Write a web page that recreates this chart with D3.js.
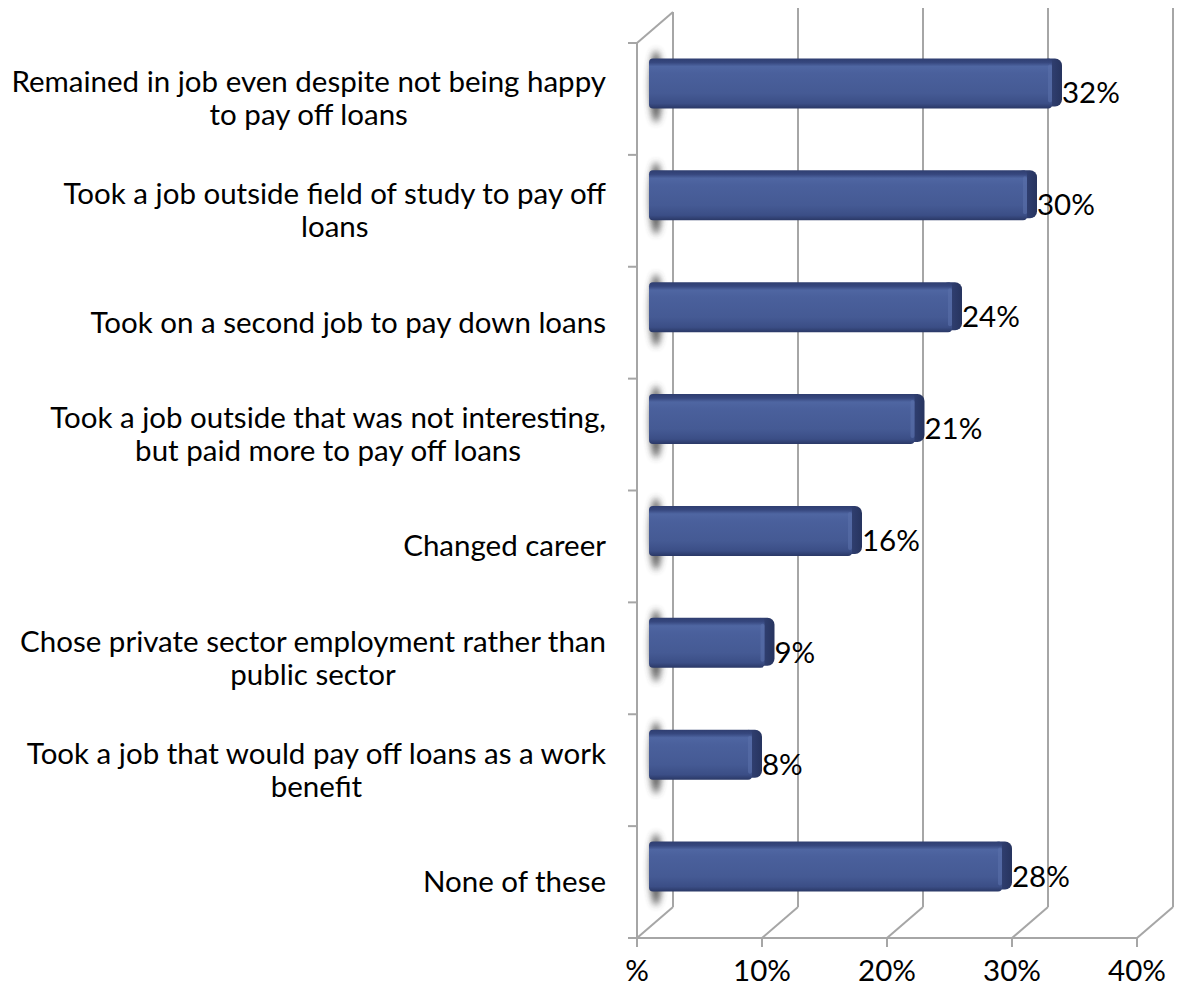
<!DOCTYPE html>
<html>
<head>
<meta charset="utf-8">
<script src="https://cdn.jsdelivr.net/npm/d3@7"></script>
<style>
  html, body { margin: 0; padding: 0; background: #fff; }
  svg { display: block; font-family: "Lato", "Open Sans", sans-serif; }
</style>
</head>
<body>
<svg id="chart" width="1179" height="990"></svg>
<script>
// Survey responses: actions taken because of student loans
const categories = [
  ["Remained in job even despite not being happy", "to pay off loans"],
  ["Took a job outside field of study to pay off", "loans"],
  ["Took on a second job to pay down loans"],
  ["Took a job outside that was not interesting,", "but paid more to pay off loans"],
  ["Changed career"],
  ["Chose private sector employment rather than", "public sector"],
  ["Took a job that would pay off loans as a work", "benefit"],
  ["None of these"]
];
const values = [0.32, 0.30, 0.24, 0.21, 0.16, 0.09, 0.08, 0.28];
const tickValues = [0, 0.1, 0.2, 0.3, 0.4];
const tickLabels = ["%", "10%", "20%", "30%", "40%"];

const svg = d3.select("#chart");

// front plane of the 3-D box, plus depth offset for the back wall
const x = d3.scaleLinear().domain([0, 0.4]).range([637, 1137]);
const y = d3.scaleBand().domain(d3.range(categories.length)).range([43, 938]);
const depth = { dx: 36, dy: -31 };
const gridColor = "#a6a6a6";
const fontSize = 29.5;

const defs = svg.append("defs");
const grad = defs.append("linearGradient").attr("id", "barFace")
  .attr("x1", 0).attr("y1", 0).attr("x2", 0).attr("y2", 1);
[
  [0, "#2f3e70"], [0.08, "#36477e"], [0.16, "#4f66a2"], [0.3, "#4a609c"],
  [0.7, "#455a94"], [0.9, "#3b4e86"], [1, "#2a3866"]
].forEach(([o, c]) => grad.append("stop").attr("offset", o).attr("stop-color", c));

const capGrad = defs.append("linearGradient").attr("id", "barCap")
  .attr("x1", 0).attr("y1", 0).attr("x2", 1).attr("y2", 0);
[[0, "#3a4c84"], [0.5, "#2f3e6f"], [1, "#27345f"]]
  .forEach(([o, c]) => capGrad.append("stop").attr("offset", o).attr("stop-color", c));

defs.append("filter").attr("id", "soft").attr("x", "-100%").attr("y", "-50%")
  .attr("width", "300%").attr("height", "200%")
  .append("feGaussianBlur").attr("stdDeviation", 3.5);

// ---- box: back wall gridlines and floor diagonals ----
const grid = svg.append("g").attr("stroke", gridColor).attr("stroke-width", 2).attr("fill", "none");
const yTop = y.range()[0], yBot = y.range()[1];

tickValues.forEach(v => {
  const fx = x(v), bx = fx + depth.dx;
  grid.append("line").attr("x1", bx).attr("x2", bx)
    .attr("y1", v === 0 ? yTop + depth.dy : 8).attr("y2", yBot + depth.dy);
  grid.append("line").attr("x1", fx).attr("y1", yBot)
    .attr("x2", bx).attr("y2", yBot + depth.dy);
});
// left wall top edge
grid.append("line").attr("x1", x(0)).attr("y1", yTop)
  .attr("x2", x(0) + depth.dx).attr("y2", yTop + depth.dy);

// front axes
grid.append("line").attr("x1", x(0)).attr("x2", x(0)).attr("y1", yTop).attr("y2", yBot);
grid.append("line").attr("x1", x(0)).attr("x2", x(0.4)).attr("y1", yBot).attr("y2", yBot);

// category boundary ticks
d3.range(categories.length + 1).forEach(i => {
  const yy = yTop + i * y.step();
  grid.append("line").attr("x1", x(0) - 9).attr("x2", x(0)).attr("y1", yy).attr("y2", yy);
});
// value ticks
tickValues.forEach(v => {
  grid.append("line").attr("x1", x(v)).attr("x2", x(v)).attr("y1", yBot).attr("y2", yBot + 9);
});

// ---- bars ----
const barH = 50;
const bars = svg.append("g");
values.forEach((v, i) => {
  const cy = y(i) + y.bandwidth() / 2 + depth.dy / 2;
  const top = cy - barH / 2;
  const x0 = x(0) + 12;
  const xr = x(v) + 15;
  const g = bars.append("g");

  // soft shadow on the left wall
  g.append("ellipse").attr("cx", x(0) + 19).attr("cy", cy + 3)
    .attr("rx", 6).attr("ry", barH / 2 + 11)
    .attr("fill", "#444").attr("opacity", 0.9).attr("filter", "url(#soft)");

  // end cap
  g.append("rect").attr("x", xr - 10).attr("y", top)
    .attr("width", 20).attr("height", barH - 2)
    .attr("rx", 7).attr("fill", "url(#barCap)");

  // front face
  g.append("rect").attr("x", x0).attr("y", top)
    .attr("width", xr - x0).attr("height", barH)
    .attr("rx", 4).attr("fill", "url(#barFace)");

  // bevel highlight near the cap
  g.append("rect").attr("x", xr - 4).attr("y", top + 6)
    .attr("width", 4).attr("height", barH - 12).attr("rx", 2)
    .attr("fill", "#5a70aa").attr("opacity", 0.6);

  // value label
  g.append("text").attr("x", xr + 10).attr("y", cy + 20)
    .attr("font-size", fontSize).attr("fill", "#000")
    .text(Math.round(v * 100) + "%");
});

// ---- category labels (wrapped lines centred on their block, block right-aligned) ----
const labelRight = 606;
const lineH = 33;
categories.forEach((lines, i) => {
  const cy = y(i) + y.bandwidth() / 2;
  const g = svg.append("g");
  const texts = lines.map((ln, k) => g.append("text")
    .attr("font-size", fontSize).attr("fill", "#000")
    .attr("text-anchor", "middle")
    .attr("y", cy + 10 + (k - (lines.length - 1) / 2) * lineH)
    .text(ln));
  const w = d3.max(texts, t => t.node().getComputedTextLength());
  texts.forEach(t => t.attr("x", labelRight - w / 2));
});

// ---- value axis labels ----
tickValues.forEach((v, k) => {
  svg.append("text").attr("x", x(v)).attr("y", 981)
    .attr("text-anchor", "middle").attr("font-size", fontSize).attr("fill", "#000")
    .text(tickLabels[k]);
});
</script>
</body>
</html>
